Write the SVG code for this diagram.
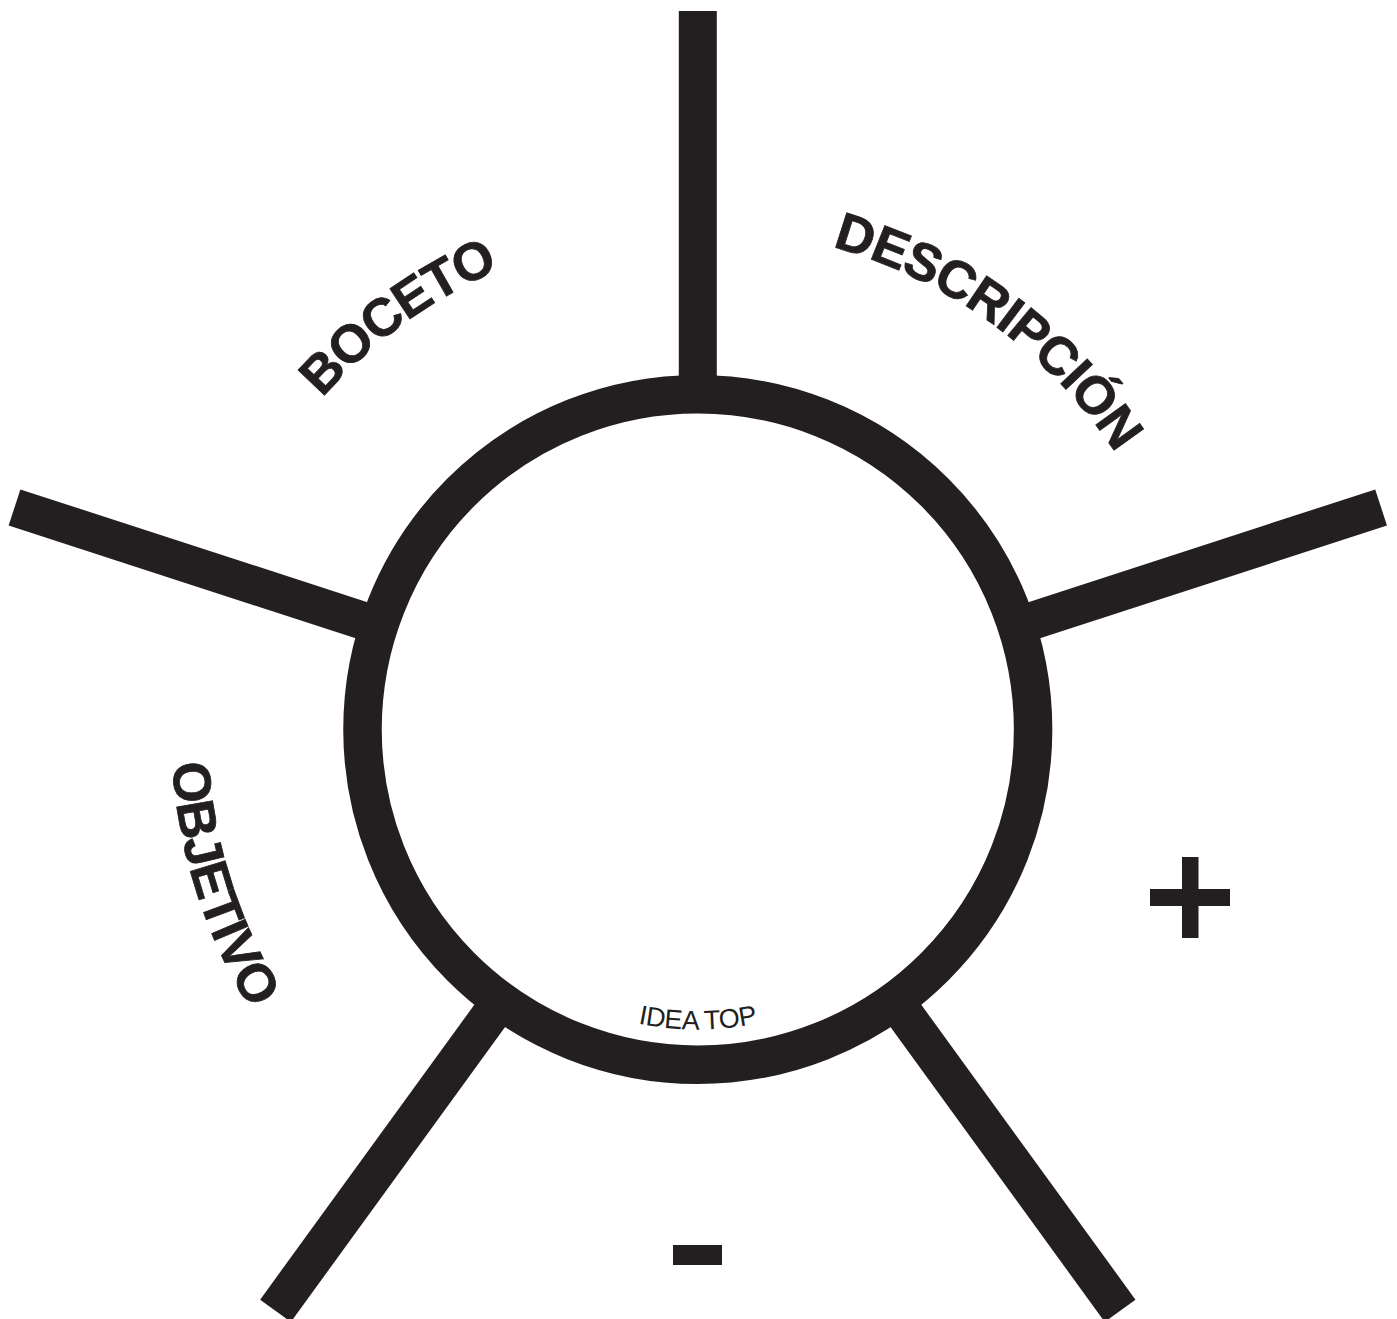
<svg xmlns="http://www.w3.org/2000/svg" xmlns:xlink="http://www.w3.org/1999/xlink" width="1397" height="1319" viewBox="0 0 1397 1319">
<style>
.spoke{stroke:#231f20;stroke-width:38;fill:none;stroke-linecap:butt}
.ring{stroke:#231f20;stroke-width:38.5;fill:#ffffff}
.lbl{font-family:"Liberation Sans",Arial,sans-serif;font-weight:bold;font-size:53px;fill:#231f20;letter-spacing:-1px;stroke:#231f20;stroke-width:0.8px}
.small{font-family:"Liberation Sans",Arial,sans-serif;font-size:27px;fill:#231f20;letter-spacing:-0.4px}
.sign{fill:#231f20}
</style>
<defs>
<path id="pDesc" d="M526.4,258.7 A501,501 0 0 1 1198.5,747.0"/>
<path id="pBoc" d="M197.1,747.0 A501,501 0 0 1 869.2,258.7"/>
<path id="pObj" d="M297.2,387.4 A530,530 0 0 0 569.6,1243.8"/>
<path id="pIdea" d="M438,880 A300.5,300.5 0 0 0 957.6,880"/>
</defs>
<rect width="1397" height="1319" fill="#ffffff"/>
<g id="connectors">
<line class="spoke" x1="697.8" y1="394.5" x2="697.8" y2="11"/>
<line class="spoke" x1="1016.4" y1="626" x2="1381.1" y2="507.5"/>
<line class="spoke" x1="894.7" y1="1000.5" x2="1120.1" y2="1310.8"/>
<line class="spoke" x1="500.9" y1="1000.5" x2="275.5" y2="1310.8"/>
<line class="spoke" x1="379.2" y1="626" x2="14.5" y2="507.5"/>
</g>
<g id="hub">
<circle class="ring" cx="697.8" cy="729.5" r="335.3"/>
<text class="small"><textPath xlink:href="#pIdea" href="#pIdea" startOffset="50%" text-anchor="middle">IDEA TOP</textPath></text>
</g>
<g id="label-descripcion">
<text class="lbl"><textPath xlink:href="#pDesc" href="#pDesc" startOffset="50%" text-anchor="middle">DESCRIPCIÓN</textPath></text>
</g>
<g id="label-boceto">
<text class="lbl"><textPath xlink:href="#pBoc" href="#pBoc" startOffset="50%" text-anchor="middle">BOCETO</textPath></text>
</g>
<g id="label-objetivo">
<text class="lbl"><textPath xlink:href="#pObj" href="#pObj" startOffset="50%" text-anchor="middle">OBJETIVO</textPath></text>
</g>
<g id="plus">
<rect class="sign" x="1150" y="889" width="80" height="17"/>
<rect class="sign" x="1182" y="857" width="16.5" height="81"/>
</g>
<g id="minus">
<rect class="sign" x="673" y="1245" width="49" height="20"/>
</g>
</svg>
